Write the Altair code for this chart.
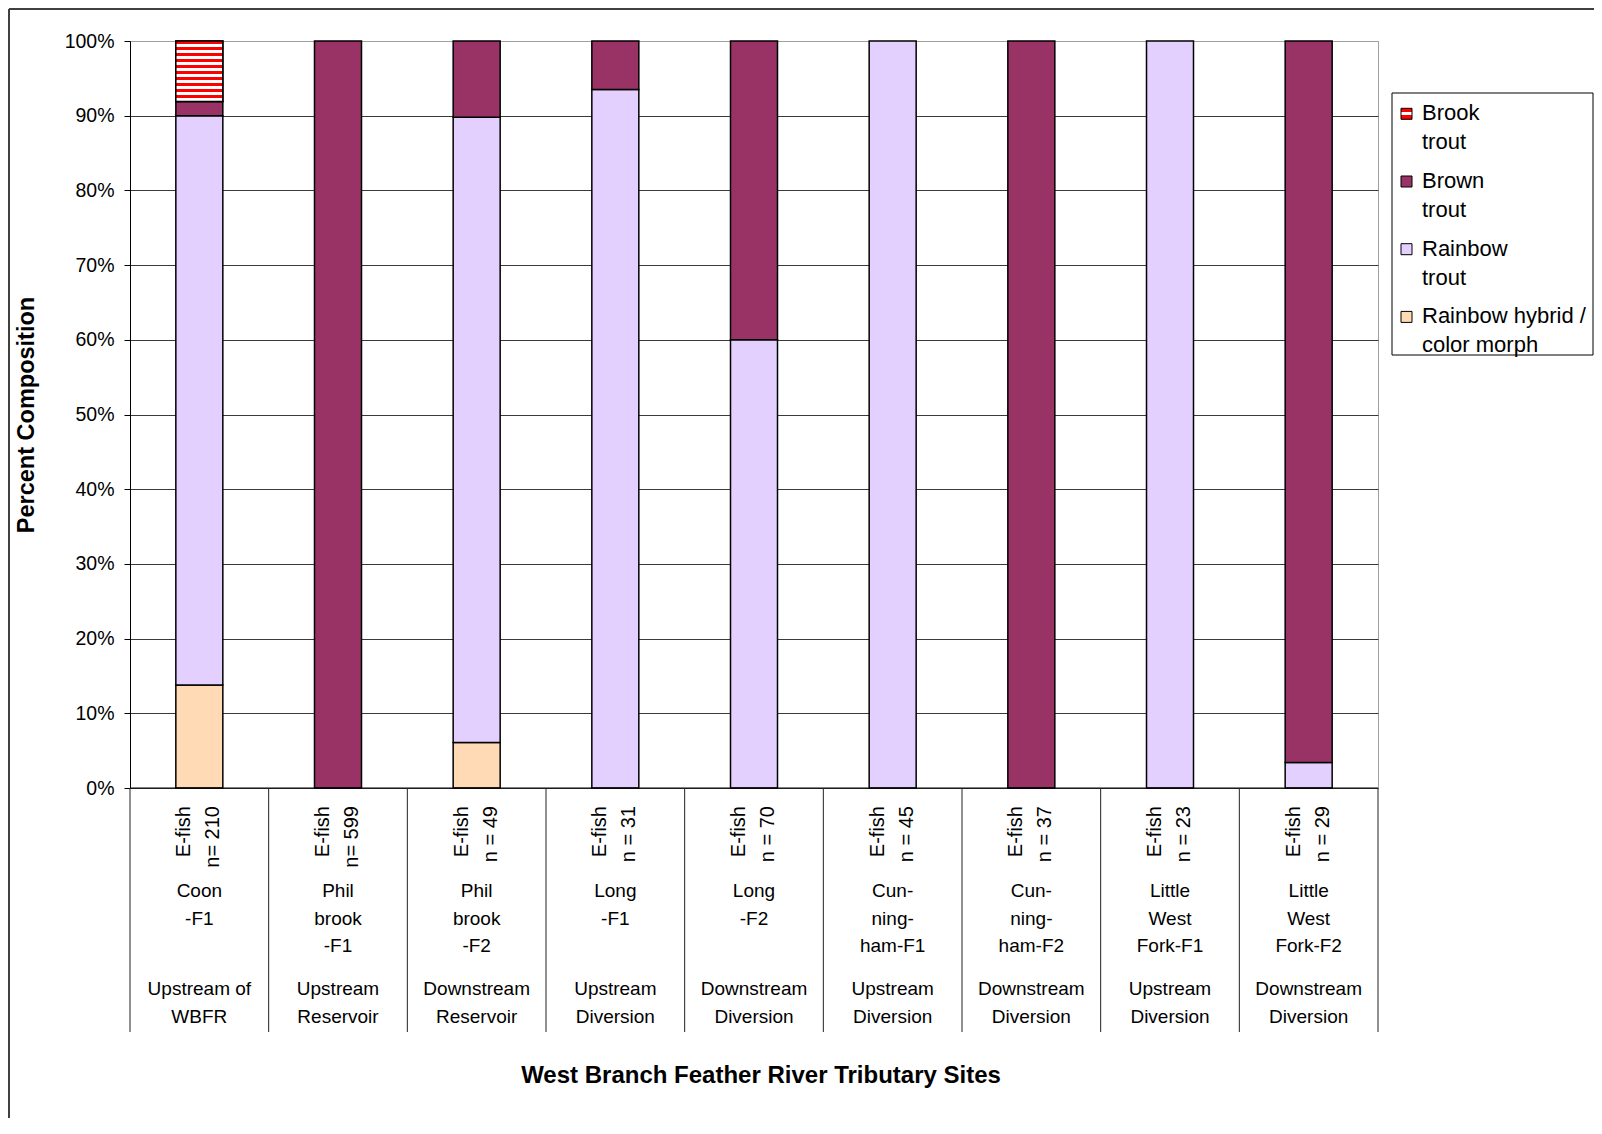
import altair as alt
import pandas as pd

# ---------------- data ----------------
keys = ["Coon-F1", "Philbrook-F1", "Philbrook-F2", "Long-F1", "Long-F2",
        "Cunningham-F1", "Cunningham-F2", "Little West Fork-F1", "Little West Fork-F2"]
site_labels = ["Coon\n-F1", "Phil\nbrook\n-F1", "Phil\nbrook\n-F2", "Long\n-F1", "Long\n-F2",
               "Cun-\nning-\nham-F1", "Cun-\nning-\nham-F2", "Little\nWest\nFork-F1", "Little\nWest\nFork-F2"]
location_labels = ["Upstream of\nWBFR", "Upstream\nReservoir", "Downstream\nReservoir",
                   "Upstream\nDiversion", "Downstream\nDiversion", "Upstream\nDiversion",
                   "Downstream\nDiversion", "Upstream\nDiversion", "Downstream\nDiversion"]
method_labels = ["E-fish\nn= 210", "E-fish\nn= 599", "E-fish\nn = 49", "E-fish\nn = 31", "E-fish\nn = 70",
                 "E-fish\nn = 45", "E-fish\nn = 37", "E-fish\nn = 23", "E-fish\nn = 29"]

species = ["Brook trout", "Brown trout", "Rainbow trout", "Rainbow hybrid / color morph"]
legend_labels = ["Brook\ntrout", "Brown\ntrout", "Rainbow\ntrout", "Rainbow hybrid /\ncolor morph"]

# percent composition per site (stack order bottom -> top: hybrid, rainbow, brown, brook)
hybrid = [13.8, 0, 6.1, 0, 0, 0, 0, 0, 0]
rainbow = [76.2, 0, 83.7, 93.5, 60.0, 100, 0, 100, 3.4]
brown = [1.9, 100, 10.2, 6.5, 40.0, 0, 100, 0, 96.6]
brook = [8.1, 0, 0, 0, 0, 0, 0, 0, 0]

colors = ["#ff7070", "#993366", "#e4d0ff", "#ffdab5"]

rows = []
for i, k in enumerate(keys):
    for sp, order, vals in [(species[3], 0, hybrid), (species[2], 1, rainbow),
                            (species[1], 2, brown), (species[0], 3, brook)]:
        rows.append({"key": k, "species": sp, "order": order, "pct": vals[i] / 100.0})
df = pd.DataFrame(rows)

cat = pd.DataFrame({"key": keys, "site": site_labels, "loc": location_labels, "method": method_labels})
one = pd.DataFrame({"a": [0]})

W, H = 1248, 747
FONT = "Liberation Sans"

# ---------------- styles ----------------
def stripes(n):
    st = []
    for k in range(n):
        a, b, c = k / n, (k + 0.5) / n, (k + 1) / n
        st += [alt.GradientStop(color="#ff0000", offset=a), alt.GradientStop(color="#ff0000", offset=b),
               alt.GradientStop(color="#ffffff", offset=b), alt.GradientStop(color="#ffffff", offset=c)]
    return alt.LinearGradient(gradient="linear", stops=st, x1=0, x2=0, y1=0, y2=1)

brook_grad = stripes(10)
legend_brook_grad = alt.LinearGradient(
    gradient="linear", x1=0, x2=0, y1=0, y2=1,
    stops=[alt.GradientStop(color="#ff0000", offset=0), alt.GradientStop(color="#ff0000", offset=0.35),
           alt.GradientStop(color="#ffffff", offset=0.35), alt.GradientStop(color="#ffffff", offset=0.65),
           alt.GradientStop(color="#ff0000", offset=0.65), alt.GradientStop(color="#ff0000", offset=1)])

x_enc = alt.X("key:N", sort=keys, scale=alt.Scale(paddingInner=0, paddingOuter=0), axis=None)
y_enc = alt.Y("y0:Q", scale=alt.Scale(domain=[0, 1], nice=False),
              axis=alt.Axis(values=[i / 10 for i in range(11)], format=".0%", tickSize=6,
                            tickColor="black", domainColor="black", labelFontSize=19.5,
                            labelColor="black", labelPadding=10, grid=True,
                            gridColor={"condition": {"test": "datum.value >= 1", "value": "#a0a0a0"},
                                       "value": "#3a3a3a"},
                            title="Percent Composition", titleFontSize=23.5, titleFontWeight="bold",
                            titleColor="black", titleX=-104, titleY=373.5, titleAngle=270,
                            titleAlign="center", titleBaseline="middle"))

base = (alt.Chart(df)
        .transform_filter("datum.pct > 0")
        .transform_stack(stack="pct", groupby=["key"], as_=["y0", "y1"],
                         sort=[alt.SortField(field="order", order="ascending")]))

bars = base.mark_bar(size=47, stroke="black", strokeWidth=1.5).encode(
    x=x_enc, y=y_enc, y2="y1:Q",
    color=alt.Color("species:N", scale=alt.Scale(domain=species, range=colors), legend=None))

brook_layer = (base.transform_filter(alt.datum.species == "Brook trout")
               .mark_bar(size=47, fill=brook_grad, stroke="black", strokeWidth=1.5)
               .encode(x=x_enc, y=y_enc, y2="y1:Q"))

# bottom axis line and category separators
bottom_line = alt.Chart(one).mark_rule(color="black", strokeWidth=1).encode(
    x=alt.value(0), x2=alt.value(W), y=alt.value(H))
seps = alt.Chart(cat).mark_rule(color="#222", strokeWidth=1).encode(
    x=alt.X("key:N", sort=keys, bandPosition=0, scale=alt.Scale(paddingInner=0, paddingOuter=0), axis=None),
    y=alt.value(H), y2=alt.value(991))
sep_last = alt.Chart(one).mark_rule(color="#222", strokeWidth=1).encode(
    x=alt.value(W), y=alt.value(H), y2=alt.value(991))

method_txt = alt.Chart(cat).mark_text(angle=270, align="right", baseline="middle", lineBreak="\n",
                                      lineHeight=29, fontSize=20, font=FONT, color="black",
                                      dy=-15).encode(
    x=x_enc, y=alt.value(765), text="method:N")
site_txt = alt.Chart(cat).mark_text(align="center", baseline="alphabetic", lineBreak="\n",
                                    lineHeight=27.5, fontSize=19, font=FONT, color="black").encode(
    x=x_enc, y=alt.value(856), text="site:N")
loc_txt = alt.Chart(cat).mark_text(align="center", baseline="alphabetic", lineBreak="\n",
                                   lineHeight=28, fontSize=19, font=FONT, color="black").encode(
    x=x_enc, y=alt.value(954), text="loc:N")

x_title = alt.Chart(one).mark_text(align="center", baseline="middle", fontSize=24, fontWeight="bold",
                                   font=FONT, color="black").encode(
    x=alt.value(631), y=alt.value(1035), text=alt.value("West Branch Feather River Tributary Sites"))

# outer chart frame (left and top edges)
frame_left = alt.Chart(one).mark_rule(color="#404040", strokeWidth=2).encode(
    x=alt.value(-121), y=alt.value(-32), y2=alt.value(1100))
frame_top = alt.Chart(one).mark_rule(color="#404040", strokeWidth=2).encode(
    y=alt.value(-32), x=alt.value(-121), x2=alt.value(1480))

# legend
legend_box = alt.Chart(one).mark_rect(fill="white", stroke="black", strokeWidth=1).encode(
    x=alt.value(1262), x2=alt.value(1463), y=alt.value(52), y2=alt.value(314))
legend_layers = [legend_box]
for i, lab in enumerate(legend_labels):
    yc = 72.8 + i * 67.7
    fill = legend_brook_grad if i == 0 else colors[i]
    legend_layers.append(alt.Chart(one).mark_rect(fill=fill, stroke="black", strokeWidth=1).encode(
        x=alt.value(1271), x2=alt.value(1282), y=alt.value(yc - 5.5), y2=alt.value(yc + 5.5)))
    legend_layers.append(alt.Chart(one).mark_text(align="left", baseline="alphabetic", lineBreak="\n",
                                                 lineHeight=29, fontSize=22, font=FONT,
                                                 color="black").encode(
        x=alt.value(1292), y=alt.value(yc + 6.3), text=alt.value(lab)))

chart = alt.layer(
    frame_left, frame_top, bars, brook_layer, bottom_line, seps, sep_last,
    method_txt, site_txt, loc_txt, x_title, *legend_layers
).properties(
    width=W, height=H,
    padding={"left": 122, "top": 33, "right": 216, "bottom": 330},
    autosize=alt.AutoSizeParams(type="none"),
).configure(font=FONT).configure_view(stroke="#a0a0a0", strokeWidth=1)

chart.save("out.html", embed_options={"renderer": "svg", "actions": False})
